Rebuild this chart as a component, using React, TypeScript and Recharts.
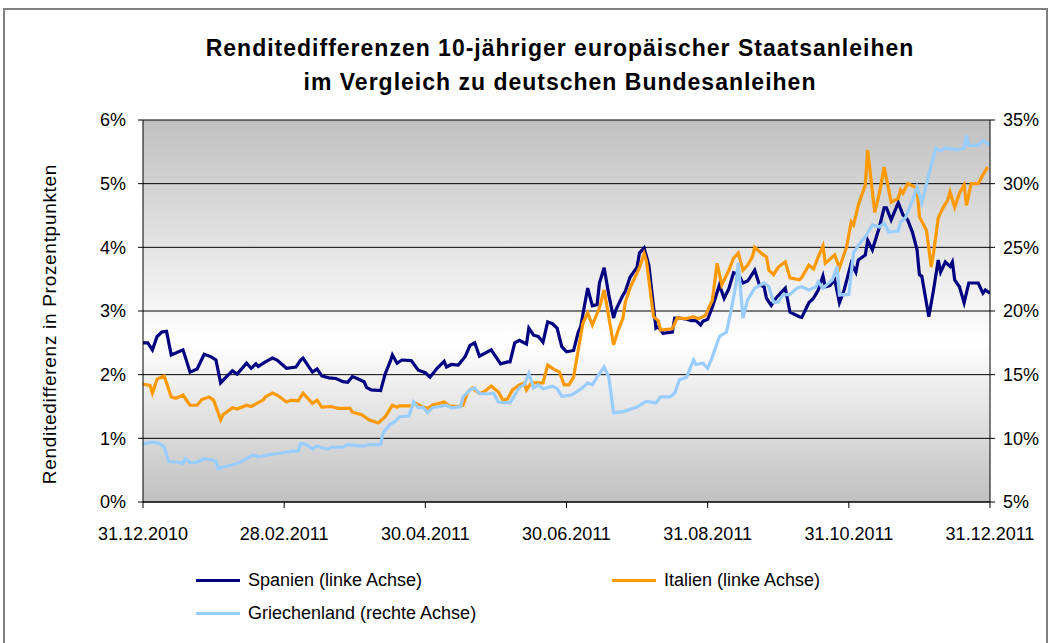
import React from 'react';
import { LineChart, Line, XAxis, YAxis, CartesianGrid } from 'recharts';

// x positions are day indices on a 0..360 scale (31.12.2010 .. 31.12.2011)
const xTickDays = [0, 60, 120, 180, 240, 300, 360];
const xTickLabels = ['31.12.2010', '28.02.2011', '30.04.2011', '30.06.2011', '31.08.2011', '31.10.2011', '31.12.2011'];
const leftTicks = [0, 1, 2, 3, 4, 5, 6];
const rightTicks = [5, 10, 15, 20, 25, 30, 35];

const spain: [number, number][] = [
  [0,2.5],[2,2.5],[4,2.39],[6,2.6],[8,2.67],[10,2.68],[12,2.31],[17,2.39],[20,2.04],[23,2.09],[26,2.32],[29,2.28],[31,2.23],[33,1.87],[35,1.95],[38,2.06],[40,2.01],[44,2.18],[46,2.1],[48,2.17],[49,2.13],[52,2.2],[55,2.26],[57,2.23],[61,2.1],[65,2.12],[67,2.23],[68,2.26],[72,2.04],[74,2.09],[76,1.98],[79,1.95],[82,1.94],[85,1.89],[87,1.88],[89,1.97],[91,1.94],[94,1.89],[95,1.8],[97,1.76],[101,1.75],[103,2.02],[105,2.2],[106,2.31],[108,2.18],[110,2.23],[114,2.22],[117,2.07],[120,2.03],[122,1.96],[125,2.1],[128,2.21],[129,2.12],[131,2.16],[134,2.15],[136,2.24],[137,2.29],[139,2.46],[141,2.5],[143,2.29],[148,2.39],[152,2.17],[155,2.2],[156,2.2],[158,2.5],[160,2.54],[163,2.48],[164,2.73],[166,2.62],[168,2.6],[170,2.51],[172,2.83],[174,2.8],[176,2.73],[178,2.44],[180,2.36],[183,2.38],[185,2.67],[186,2.75],[189,3.36],[191,3.08],[193,3.1],[194,3.44],[196,3.68],[198,3.25],[200,2.89],[201,3.02],[204,3.25],[205,3.31],[207,3.53],[210,3.69],[211,3.91],[213,3.99],[215,3.72],[217,3.06],[218,2.73],[219,2.75],[221,2.65],[225,2.67],[226,2.89],[228,2.89],[231,2.87],[233,2.85],[235,2.85],[237,2.78],[238,2.84],[240,2.87],[242,3.06],[245,3.41],[247,3.2],[249,3.35],[251,3.6],[253,3.58],[255,3.44],[257,3.47],[260,3.64],[262,3.41],[264,3.38],[265,3.2],[267,3.09],[269,3.2],[271,3.28],[273,3.36],[275,2.98],[279,2.91],[280,2.9],[283,3.13],[285,3.2],[287,3.33],[289,3.55],[290,3.38],[292,3.4],[294,3.49],[296,3.13],[298,3.33],[301,3.75],[303,3.61],[304,3.8],[307,3.88],[308,4.11],[310,3.96],[313,4.32],[315,4.62],[316,4.62],[318,4.43],[321,4.7],[323,4.51],[325,4.43],[327,4.24],[329,3.96],[330,3.57],[331,3.55],[334,2.91],[336,3.33],[338,3.8],[339,3.61],[341,3.77],[343,3.7],[344,3.77],[345,3.49],[347,3.38],[349,3.13],[351,3.44],[355,3.44],[357,3.28],[358,3.33],[360,3.28],
];

const italy: [number, number][] = [
  [0,1.85],[3,1.83],[4,1.71],[6,1.93],[9,1.98],[12,1.65],[14,1.63],[17,1.68],[20,1.52],[23,1.52],[25,1.61],[28,1.65],[30,1.6],[33,1.29],[34,1.37],[38,1.48],[40,1.46],[44,1.52],[46,1.5],[48,1.54],[51,1.6],[52,1.65],[55,1.71],[57,1.68],[61,1.57],[63,1.6],[66,1.59],[68,1.71],[72,1.55],[74,1.6],[76,1.49],[80,1.5],[83,1.47],[88,1.47],[89,1.41],[93,1.37],[96,1.29],[100,1.24],[103,1.34],[106,1.52],[108,1.49],[109,1.51],[114,1.51],[116,1.55],[119,1.49],[121,1.47],[123,1.52],[128,1.57],[130,1.51],[134,1.5],[136,1.52],[138,1.73],[140,1.79],[143,1.7],[145,1.73],[148,1.82],[151,1.73],[153,1.6],[155,1.62],[157,1.76],[160,1.84],[162,1.87],[163,1.76],[165,1.87],[170,1.87],[172,2.15],[174,2.1],[177,2.04],[179,1.84],[181,1.84],[183,1.96],[185,2.39],[187,2.81],[189,2.97],[191,2.78],[194,3.05],[196,3.33],[200,2.47],[202,2.7],[204,2.89],[205,3.14],[207,3.36],[210,3.6],[211,3.68],[213,3.9],[214,3.78],[217,2.91],[219,2.85],[220,2.7],[225,2.72],[227,2.89],[231,2.88],[234,2.91],[236,2.88],[239,2.93],[242,3.17],[244,3.75],[246,3.41],[249,3.64],[251,3.83],[253,3.91],[255,3.64],[257,3.72],[259,3.85],[260,4.0],[263,3.9],[265,3.85],[266,3.64],[268,3.57],[270,3.69],[273,3.77],[275,3.52],[279,3.49],[280,3.53],[283,3.72],[285,3.66],[287,3.85],[289,4.02],[290,3.75],[294,3.88],[296,3.68],[299,4.0],[301,4.4],[302,4.35],[304,4.66],[307,4.98],[308,5.53],[311,4.55],[313,4.85],[315,5.26],[318,4.71],[321,4.77],[322,4.9],[323,4.85],[325,5.0],[329,4.93],[330,4.48],[333,4.27],[335,3.69],[336,3.91],[338,4.46],[340,4.62],[342,4.74],[343,4.87],[345,4.63],[347,4.85],[349,4.98],[350,4.66],[352,5.0],[355,5.0],[357,5.14],[359,5.26],
];

const greece: [number, number][] = [
  [0,9.56],[4,9.7],[7,9.6],[9,9.3],[11,8.14],[14,8.14],[17,8.05],[18,8.4],[20,8.1],[22,8.1],[24,8.2],[26,8.4],[29,8.3],[31,8.2],[32,7.6],[34,7.75],[38,7.9],[41,8.1],[44,8.4],[47,8.7],[49,8.55],[52,8.65],[55,8.75],[59,8.85],[62,8.95],[63,9.0],[66,9.0],[67,9.6],[69,9.55],[72,9.16],[74,9.4],[77,9.2],[79,9.15],[80,9.3],[85,9.3],[87,9.5],[90,9.45],[94,9.4],[96,9.5],[101,9.5],[102,10.4],[105,11.1],[107,11.3],[109,11.7],[113,11.75],[115,12.85],[117,12.4],[119,12.45],[121,12.0],[123,12.4],[126,12.5],[129,12.6],[131,12.4],[135,12.5],[136,13.25],[139,13.8],[141,13.95],[143,13.5],[147,13.5],[149,13.55],[151,12.85],[154,12.8],[156,12.8],[158,13.4],[160,14.0],[162,14.2],[164,15.1],[166,13.95],[168,14.2],[170,13.9],[174,14.1],[176,13.9],[178,13.3],[182,13.4],[184,13.6],[187,14.0],[189,14.35],[191,14.2],[193,14.8],[196,15.6],[198,14.8],[200,12.0],[204,12.1],[206,12.2],[210,12.45],[213,12.8],[214,12.9],[218,12.78],[220,13.25],[224,13.25],[226,13.56],[228,14.6],[231,14.8],[234,16.15],[235,15.8],[238,15.9],[240,15.5],[242,16.4],[245,18.0],[248,18.35],[250,20.1],[252,22.05],[253,23.8],[255,19.45],[257,20.9],[260,21.8],[264,22.2],[266,21.9],[268,20.7],[270,20.7],[272,21.26],[275,21.3],[278,21.8],[280,21.9],[283,21.65],[286,21.9],[287,22.3],[289,21.8],[293,22.44],[295,23.5],[296,21.26],[300,21.3],[302,24.56],[305,25.4],[307,25.8],[310,26.76],[313,26.6],[315,26.9],[317,26.2],[321,26.3],[322,27.0],[324,27.3],[327,28.7],[329,29.75],[331,28.5],[334,30.7],[337,32.8],[339,32.6],[341,32.8],[346,32.65],[349,32.8],[350,33.75],[351,33.0],[355,33.0],[357,33.4],[360,33.0],
];

const seriesNames = ['Spanien (linke Achse)', 'Italien (linke Achse)', 'Griechenland (rechte Achse)'];
const seriesColors = ['#000080', '#FF9900', '#99CCFF'];
const titleLines = ['Renditedifferenzen 10-jähriger europäischer Staatsanleihen', 'im Vergleich zu deutschen Bundesanleihen'];
const yAxisTitle = 'Renditedifferenz in Prozentpunkten';

const FONT = '"Liberation Sans", Arial, Helvetica, sans-serif';

const toObj = (arr: [number, number][]) => arr.map(([d, v]) => ({ d, v }));

export default function App() {
  const tickStyle = { fill: '#000', fontSize: 18, fontFamily: FONT };
  return (
    <div style={{ position: 'absolute', left: 0, top: 0, width: 1052, height: 643, background: '#fff', overflow: 'hidden', fontFamily: FONT }}>
      <LineChart width={1052} height={643} margin={{ top: 120, right: 0, bottom: 111, left: 0 }}>
        <defs>
          <linearGradient id="plotBg" x1="0" y1="0" x2="0" y2="1">
            <stop offset="0%" stopColor="#c0c0c0" />
            <stop offset="58%" stopColor="#ffffff" />
            <stop offset="100%" stopColor="#c0c0c0" />
          </linearGradient>
        </defs>
        <CartesianGrid yAxisId="left" vertical={false} stroke="#000" strokeOpacity={1} fill="url(#plotBg)" fillOpacity={1} />
        <XAxis
          type="number"
          dataKey="d"
          domain={[0, 360]}
          ticks={xTickDays}
          interval={0}
          allowDataOverflow
          tickFormatter={(v: number) => xTickLabels[xTickDays.indexOf(v)]}
          stroke="#000"
          tick={tickStyle}
          tickSize={6}
          tickMargin={19}
          height={30}
        />
        <YAxis
          yAxisId="left"
          domain={[0, 6]}
          ticks={leftTicks}
          interval={0}
          tickFormatter={(v: number) => `${v}%`}
          stroke="#000"
          tick={tickStyle}
          tickSize={5}
          tickMargin={12}
          width={143}
        />
        <YAxis
          yAxisId="right"
          orientation="right"
          domain={[5, 35]}
          ticks={rightTicks}
          interval={0}
          tickFormatter={(v: number) => `${v}%`}
          stroke="#000"
          tick={tickStyle}
          tickSize={5}
          tickMargin={8}
          width={62}
        />
        <Line yAxisId="left" data={toObj(spain)} dataKey="v" type="linear" stroke={seriesColors[0]} strokeWidth={3.2} dot={false} activeDot={false} isAnimationActive={false} />
        <Line yAxisId="left" data={toObj(italy)} dataKey="v" type="linear" stroke={seriesColors[1]} strokeWidth={3.2} dot={false} activeDot={false} isAnimationActive={false} />
        <Line yAxisId="right" data={toObj(greece)} dataKey="v" type="linear" stroke={seriesColors[2]} strokeWidth={3.2} dot={false} activeDot={false} isAnimationActive={false} />
      </LineChart>

      <div style={{ position: 'absolute', left: 3, top: 8, width: 1045, height: 700, border: '2px solid #808080', boxSizing: 'border-box', pointerEvents: 'none' }} />

      <div style={{ position: 'absolute', left: 60, top: 31, width: 1000, textAlign: 'center', fontWeight: 'bold', fontSize: 23, letterSpacing: 1, lineHeight: '34px', color: '#000' }}>
        {titleLines.map((t) => (<div key={t}>{t}</div>))}
      </div>

      <div style={{ position: 'absolute', left: 50, top: 324, transform: 'translate(-50%, -50%) rotate(-90deg)', whiteSpace: 'nowrap', fontSize: 19, letterSpacing: 0.7, color: '#000' }}>
        {yAxisTitle}
      </div>

      {[
        { x: 196, y: 580 },
        { x: 612, y: 580 },
        { x: 196, y: 613 },
      ].map((p, i) => (
        <div key={seriesNames[i]} style={{ position: 'absolute', left: p.x, top: p.y - 12, height: 24, display: 'flex', alignItems: 'center', whiteSpace: 'nowrap' }}>
          <div style={{ width: 44, height: 3, background: seriesColors[i], marginRight: 8 }} />
          <span style={{ fontSize: 18, color: '#000' }}>{seriesNames[i]}</span>
        </div>
      ))}
    </div>
  );
}
